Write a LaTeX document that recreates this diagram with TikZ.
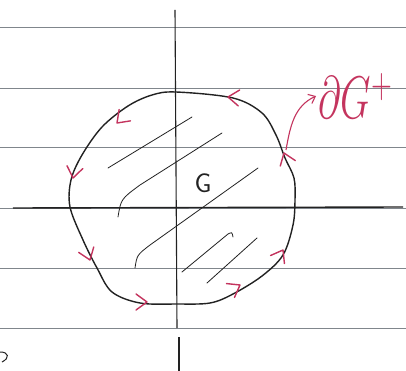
\documentclass[tikz,border=0pt]{standalone}
\usepackage{tikz}
\usetikzlibrary{arrows.meta}
\definecolor{rule}{HTML}{80868C}
\definecolor{ink}{HTML}{222222}
\definecolor{pen}{HTML}{C4345E}
\tikzset{
 chev/.style={pen,line width=1.4pt,line cap=round,line join=round},
 hatch/.style={ink,line width=.8pt,line cap=round}}

\begin{document}
\begin{tikzpicture}[x=1pt,y=-1pt,>={Straight Barb[length=6pt,width=10pt]}]
 \fill[white] (0,0) rectangle (406,371);
 \useasboundingbox (0,0) rectangle (406,371);
 % ruled paper
 \foreach \y in {27,88,147,208,268,328}
  \draw[rule,line width=.8pt] (0,\y)--(406,\y);
 % axes
 \draw[ink,line width=1.4pt] (13,208)--(403,207);
 \draw[ink,line width=1.1pt] (175,10)--(177,328);
 \draw[ink,line width=1.1pt] (179,337)--(179,371);
 % region G
 \draw[ink,line width=1.4pt] plot[smooth cycle,tension=.55] coordinates {
  (176,92) (233,98) (262,113) (276,135) (285,158) (294,178) (295,200)
  (293,225) (283,255) (262,276) (233,294) (210,303) (177,304) (140,303)
  (112,292) (97,268) (83,240) (70,207) (71,180) (82,155) (102,127)
  (128,106) (152,95)};
 % hatching
 \draw[hatch] (108,168)--(192,117);
 \draw[hatch] (118,217) .. controls (121,199) .. (140,185)--(222,133);
 \draw[hatch] (135,268) .. controls (137,255) .. (150,245)--(258,168);
 \draw[hatch] (182,272)--(228,234) .. controls (232,232) .. (233,237);
 \draw[hatch] (207,283)--(257,238);
 \node[ink,font=\sffamily\huge,scale=1.3] (G) at (203,183) {G};
 % orientation marks
 \foreach \x/\y/\a in {228/97/175,117/123/225,73/178/260,90/260/290,
   147/302/0,240/285/30,283/250/60,284/153/110}
  \draw[chev,shift={(\x,\y)},rotate=\a] (-11,-8)--(0,0)--(-11,8);
 % boundary label
 \coordinate (p) at (286,150);
 \node[pen,anchor=base west,inner sep=1pt,font=\huge,xscale=1.9,yscale=2.9] (bd) at (316,119) {$\partial G^{+}$};
 \draw[pen,line width=1.1pt,->] (p) to[out=80,in=205] (bd.west);
 % scrap at the corner
 \draw[ink,line width=1pt] (0,352) .. controls (9,352) and (10,358) .. (2,362);
\end{tikzpicture}
\end{document}
